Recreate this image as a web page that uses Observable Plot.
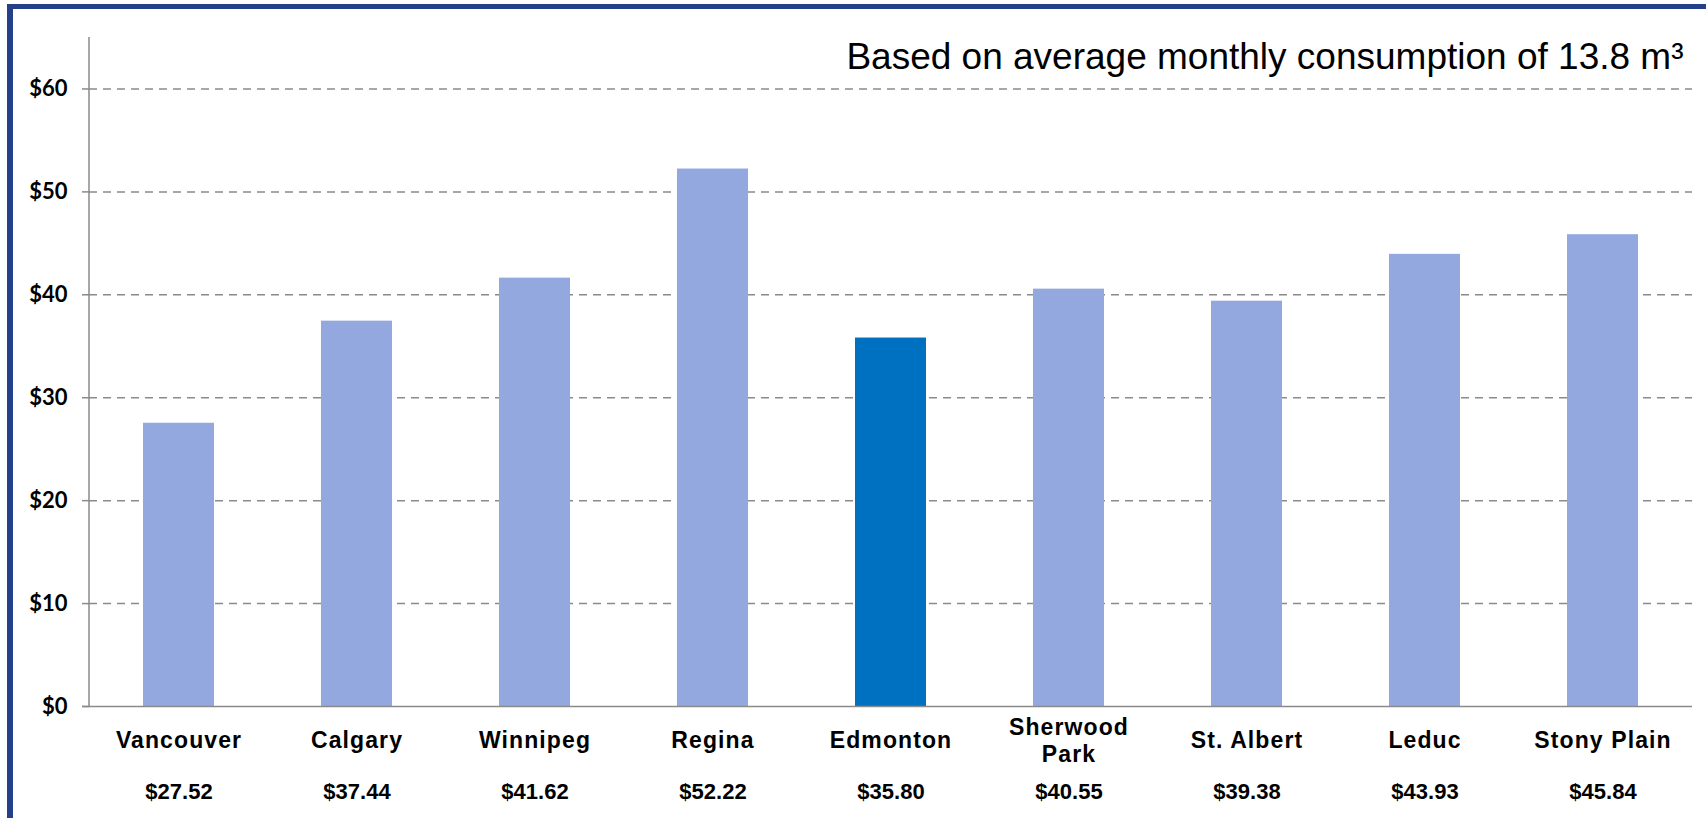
<!DOCTYPE html>
<html>
<head>
<meta charset="utf-8">
<script src="https://cdn.jsdelivr.net/npm/d3@7"></script>
<script src="https://cdn.jsdelivr.net/npm/@observablehq/plot@0.6"></script>
<style>
html, body { margin: 0; padding: 0; background: #fff; }
#chart { position: absolute; left: 0; top: 0; }
#frame { position: absolute; left: 7px; top: 4px; width: 1730px; height: 840px;
  border-top: 5px solid #263f8b; border-left: 6px solid #263f8b; box-sizing: border-box; pointer-events: none; }
.cat text { letter-spacing: 1.1px; }
</style>
</head>
<body>
<div id="chart"></div>
<div id="frame"></div>
<script>
// ---- data ----
const cities = ["Vancouver", "Calgary", "Winnipeg", "Regina", "Edmonton", "Sherwood Park", "St. Albert", "Leduc", "Stony Plain"];
const cityLabels = ["Vancouver", "Calgary", "Winnipeg", "Regina", "Edmonton", "Sherwood\nPark", "St. Albert", "Leduc", "Stony Plain"];
const costs = [27.52, 37.44, 41.62, 52.22, 35.80, 40.55, 39.38, 43.93, 45.84];
const highlightCity = "Edmonton";
const yTicks = [0, 10, 20, 30, 40, 50, 60];
const note = "Based on average monthly consumption of 13.8 m³";

const data = cities.map((c, i) => ({ city: c, label: cityLabels[i], value: costs[i] }));

const gray = "#8a8a8a";
const labelFont = "'Liberation Sans', Arial, sans-serif";

// vertical axis line drawn from the plot's own dimensions
function leftAxisLine(index, scales, values, dims) {
  const g = d3.create("svg:line")
    .attr("x1", dims.marginLeft).attr("x2", dims.marginLeft)
    .attr("y1", dims.marginTop).attr("y2", dims.height - dims.marginBottom)
    .attr("stroke", gray).attr("stroke-width", 1.5);
  return g.node();
}

const chart = Plot.plot({
  width: 1706,
  height: 818,
  marginLeft: 89,
  marginRight: 14,
  marginTop: 37,
  marginBottom: 112,
  style: { fontFamily: labelFont, background: "transparent", overflow: "visible" },
  x: { domain: cities, paddingInner: 0.6, paddingOuter: 0.3, axis: null },
  y: { domain: [0, 65], axis: null },
  color: { domain: ["other", "highlight"], range: ["#94a8e0", "#0070c0"] },
  marks: [
    Plot.gridY(yTicks.filter(d => d > 0), { stroke: gray, strokeOpacity: 1, strokeWidth: 1.5, strokeDasharray: "8,6" }),
    Plot.barY(data, { x: "city", y: "value", fill: d => d.city === highlightCity ? "highlight" : "other" }),
    Plot.axisY(yTicks, { tickSize: 7, tickFormat: () => "", label: null, stroke: gray, strokeWidth: 1.5 }),
    Plot.axisY(yTicks, { tickSize: 0, tickPadding: 22, label: null, tickFormat: d => "$" + d, fontSize: 22, fontWeight: "bold", fontFamily: "Lato", fill: "#000" }),
    Plot.ruleY([0], { stroke: gray, strokeWidth: 1.5, insetLeft: -7 }),
    leftAxisLine,
    Plot.text(data, { x: "city", text: "label", frameAnchor: "bottom", dy: 33, lineAnchor: "middle", lineHeight: 1.2, fontSize: 23, fontWeight: "bold", fill: "#000", className: "cat" }),
    Plot.text(data, { x: "city", text: d => "$" + d.value.toFixed(2), frameAnchor: "bottom", dy: 85, lineAnchor: "middle", fontSize: 22, fontWeight: "bold", fill: "#000" }),
    Plot.text([note], { text: d => d, frameAnchor: "top-right", dx: -9, dy: 31, lineAnchor: "bottom", textAnchor: "end", fontSize: 37, fill: "#000" })
  ]
});
document.getElementById("chart").appendChild(chart);
</script>
</body>
</html>
